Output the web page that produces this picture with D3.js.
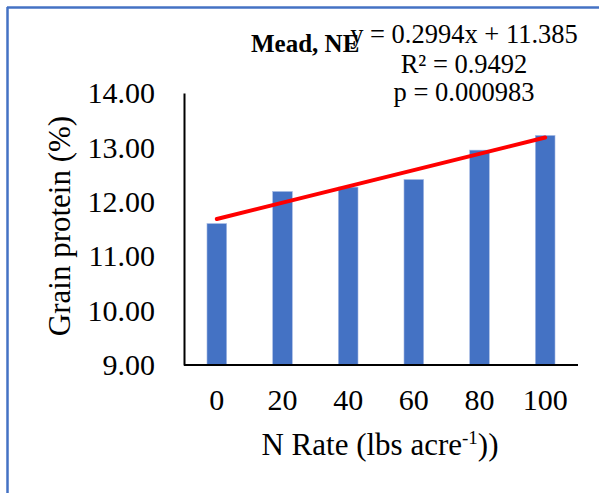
<!DOCTYPE html>
<html>
<head>
<meta charset="utf-8">
<script src="https://cdn.jsdelivr.net/npm/d3@7"></script>
<style>
  html, body { margin: 0; padding: 0; background: #fff; }
  svg { display: block; }
  text { font-family: "Liberation Serif", "Times New Roman", serif; fill: #000; }
</style>
</head>
<body>
<script>
// ---- data ----
const categories = ["0", "20", "40", "60", "80", "100"];
const proteinValues = [11.60, 12.19, 12.27, 12.41, 12.95, 13.22];
const yTickValues = [9, 10, 11, 12, 13, 14];
const trendSlope = 0.2994;
const trendIntercept = 11.385;
const chartTitle = "Mead, NE";
const equationLines = ["y = 0.2994x + 11.385", "R² = 0.9492", "p = 0.000983"];
const yAxisTitle = "Grain protein (%)";

const W = 601, H = 493;
const svg = d3.select("body").append("svg").attr("width", W).attr("height", H);

// frame (blue border, top and left visible)
svg.append("line").attr("x1", 7).attr("x2", 599).attr("y1", 7.5).attr("y2", 7.5)
  .attr("stroke", "#4472C4").attr("stroke-width", 2.5);
svg.append("line").attr("x1", 7.5).attr("x2", 7.5).attr("y1", 7).attr("y2", H)
  .attr("stroke", "#4472C4").attr("stroke-width", 2.5);

const plot = { left: 184, right: 578, top: 93, bottom: 365 };

const x = d3.scaleBand().domain(categories)
  .range([plot.left, plot.right]).paddingInner(0.7).paddingOuter(0.35);
const y = d3.scaleLinear().domain([9, 14]).range([plot.bottom, plot.top]);

// bars
svg.append("g").selectAll("rect").data(proteinValues).join("rect")
  .attr("x", (d, i) => x(categories[i]))
  .attr("width", x.bandwidth())
  .attr("y", d => y(d))
  .attr("height", d => y(9) - y(d))
  .attr("fill", "#4472C4")
  .attr("stroke", "#a9bde4").attr("stroke-width", 0.6);

// y axis
const yAxis = d3.axisLeft(y).tickValues(yTickValues).tickSize(0).tickPadding(29)
  .tickFormat(d3.format(".2f"));
const gy = svg.append("g").attr("transform", `translate(${plot.left},0)`).call(yAxis);
gy.select(".domain").attr("stroke", "#000").attr("stroke-width", 2);
gy.selectAll("text").style("font-family", "Liberation Serif").style("font-size", "30px").attr("fill", "#000");

// x axis
const xAxis = d3.axisBottom(x).tickSize(0).tickPadding(24);
const gx = svg.append("g").attr("transform", `translate(0,${plot.bottom})`).call(xAxis);
gx.select(".domain").attr("stroke", "#000").attr("stroke-width", 2.2)
  .attr("d", `M${plot.left},0H${plot.right}`);
gx.selectAll("text").style("font-family", "Liberation Serif").style("font-size", "30px").attr("fill", "#000");

// trend line
const trendPts = categories.map((c, i) => [x(c) + x.bandwidth() / 2, y(trendSlope * (i + 1) + trendIntercept)]);
const ends = [trendPts[0], trendPts[trendPts.length - 1]];
svg.append("path").attr("d", d3.line()(ends))
  .attr("stroke", "#FF0000").attr("stroke-width", 4).attr("stroke-linecap", "round").attr("fill", "none");

// title
svg.append("text").attr("x", 251).attr("y", 52)
  .style("font-size", "25px").style("font-weight", "bold").text(chartTitle);

// equation
const eqY = [43, 73, 101];
svg.append("g").selectAll("text").data(equationLines).join("text")
  .attr("x", 464).attr("y", (d, i) => eqY[i]).attr("text-anchor", "middle")
  .style("font-size", "26.5px").text(d => d);

// y axis title
svg.append("text").attr("transform", "translate(70,226) rotate(-90)")
  .attr("text-anchor", "middle").style("font-size", "31px").text(yAxisTitle);

// x axis title with superscript
const xt = svg.append("text").attr("x", 380).attr("y", 455).attr("text-anchor", "middle")
  .style("font-size", "31px");
xt.append("tspan").text("N Rate (lbs acre");
xt.append("tspan").attr("dy", -11).style("font-size", "19px").text("-1");
xt.append("tspan").attr("dy", 11).text("))");
</script>
</body>
</html>
